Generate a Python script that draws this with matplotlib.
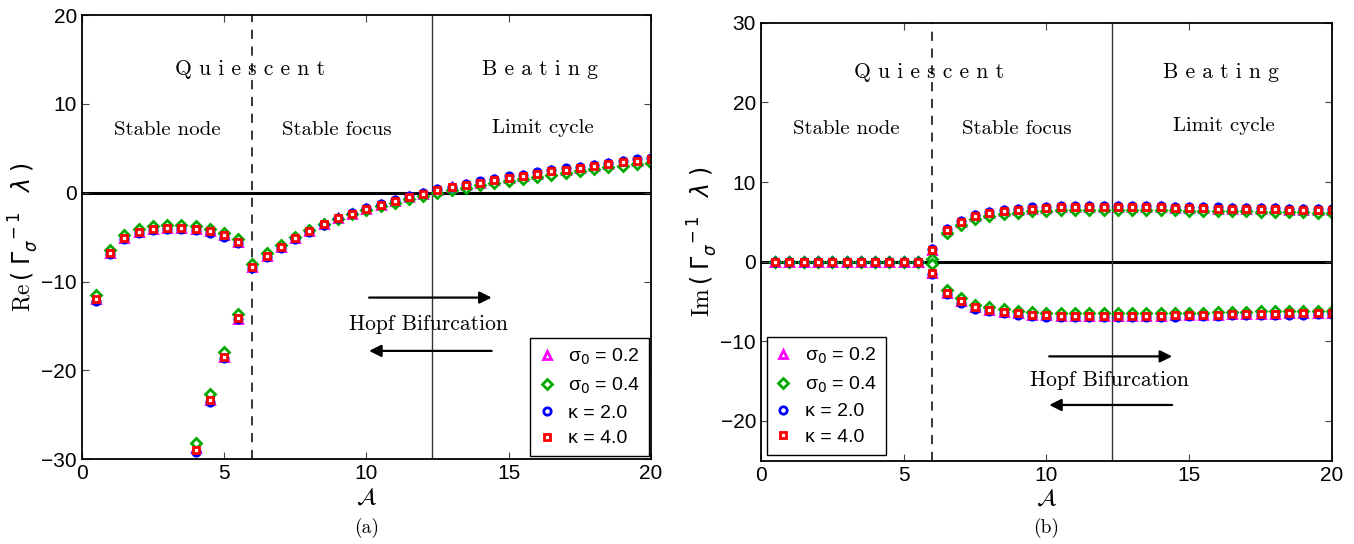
import numpy as np
import matplotlib.pyplot as plt

# amplitude grid
A = np.arange(0.5, 20.01, 0.5)

# Re(lambda): main branch for each parameter set
re_s02 = [-12.0, -6.8, -5.1, -4.4, -4.05, -3.95, -3.95, -4.1, -4.35, -4.8, -5.55,
          -8.35, -7.1, -6.1, -5.15, -4.3, -3.55, -2.9, -2.35, -1.8, -1.35, -0.9,
          -0.45, -0.1, 0.3, 0.6, 0.85, 1.15, 1.45, 1.7, 1.9, 2.15, 2.4, 2.6, 2.8,
          3.0, 3.25, 3.45, 3.6, 3.75]
re_s04 = [-11.5, -6.4, -4.8, -4.1, -3.75, -3.65, -3.65, -3.8, -4.05, -4.5, -5.2,
          -8.0, -6.8, -5.85, -4.95, -4.2, -3.55, -2.95, -2.45, -1.95, -1.5, -1.1,
          -0.65, -0.35, 0.0, 0.3, 0.55, 0.85, 1.1, 1.35, 1.6, 1.8, 2.05, 2.25,
          2.45, 2.65, 2.85, 3.05, 3.2, 3.35]
re_k2 = [-12.2, -6.95, -5.25, -4.55, -4.2, -4.1, -4.1, -4.25, -4.5, -4.95, -5.7,
         -8.5, -7.2, -6.2, -5.25, -4.4, -3.6, -2.9, -2.3, -1.75, -1.25, -0.8,
         -0.35, 0.0, 0.4, 0.7, 1.0, 1.3, 1.6, 1.85, 2.05, 2.3, 2.55, 2.75, 2.95,
         3.15, 3.4, 3.6, 3.75, 3.9]
re_k4 = [-12.0, -6.8, -5.1, -4.4, -4.05, -3.95, -3.95, -4.1, -4.35, -4.8, -5.55,
         -8.35, -7.1, -6.1, -5.15, -4.3, -3.55, -2.9, -2.35, -1.8, -1.35, -0.9,
         -0.45, -0.1, 0.3, 0.6, 0.85, 1.15, 1.45, 1.7, 1.9, 2.15, 2.4, 2.6, 2.8,
         3.0, 3.25, 3.45, 3.6, 3.75]

# second real root (stable node), only inside the plotted range
A_low = [4.0, 4.5, 5.0, 5.5]
low_s02 = [-28.7, -23.3, -18.5, -14.2]
low_s04 = [-28.2, -22.7, -17.9, -13.7]
low_k2 = [-29.2, -23.5, -18.6, -14.2]
low_k4 = [-29.0, -23.3, -18.5, -14.1]

# Im(lambda), upper root of the conjugate pair
im_s02 = [0]*11 + [1.4, 3.95, 5.0, 5.75, 6.1, 6.35, 6.5, 6.65, 6.75, 6.8, 6.85,
                   6.85, 6.85, 6.85, 6.85, 6.8, 6.8, 6.75, 6.7, 6.7, 6.65, 6.6,
                   6.6, 6.55, 6.55, 6.5, 6.5, 6.45, 6.45]
im_s04 = [0]*11 + [0.3, 3.55, 4.6, 5.4, 5.75, 6.0, 6.15, 6.3, 6.4, 6.45, 6.5,
                   6.5, 6.5, 6.5, 6.5, 6.5, 6.45, 6.45, 6.4, 6.4, 6.35, 6.3,
                   6.3, 6.25, 6.25, 6.2, 6.2, 6.15, 6.15]
im_k2 = [0]*11 + [1.6, 4.1, 5.15, 5.9, 6.25, 6.5, 6.65, 6.8, 6.9, 6.95, 7.0,
                  7.0, 7.0, 7.0, 7.0, 6.95, 6.95, 6.9, 6.85, 6.85, 6.8, 6.75,
                  6.75, 6.7, 6.7, 6.65, 6.65, 6.6, 6.6]
im_k4 = [0]*11 + [1.4, 3.95, 5.0, 5.75, 6.1, 6.35, 6.5, 6.65, 6.75, 6.8, 6.85,
                  6.85, 6.85, 6.85, 6.85, 6.8, 6.8, 6.75, 6.7, 6.7, 6.65, 6.6,
                  6.6, 6.55, 6.55, 6.5, 6.5, 6.45, 6.45]

labels = ['σ$_0$ = 0.2', 'σ$_0$ = 0.4', 'κ = 2.0', 'κ = 4.0']
styles = [dict(marker='^', color='#ff00ff', ms=5.8),
          dict(marker='D', color='#00aa00', ms=4.7),
          dict(marker='o', color='#0000ff', ms=5.3),
          dict(marker='s', color='#ff0000', ms=5.0)]

A_hopf = 12.3
A_focus = 6.0

sans = 'Liberation Sans'
serif = 'cmr10'

fig = plt.figure(figsize=(13.54, 5.44), dpi=100)
ax1 = fig.add_axes([0.0603, 0.1557, 0.4205, 0.8167])
ax2 = fig.add_axes([0.5620, 0.1531, 0.4217, 0.8051])


def draw_markers(ax, x, series, with_label):
    for y, st, lab in zip(series, styles, labels):
        kw = dict(mew=2.0, mfc='white', ls='none')
        kw.update(st)
        ax.plot(x, y, label=lab if with_label else None, **kw)


def dress(ax, ylim, yticks):
    ax.set_xlim(0, 20)
    ax.set_ylim(*ylim)
    ax.set_xticks([0, 5, 10, 15, 20])
    ax.set_yticks(yticks)
    ax.tick_params(direction='in', top=True, right=True, length=5, width=0.8,
                   labelsize=15, color='#444444')
    for t in ax.get_xticklabels() + ax.get_yticklabels():
        t.set_fontfamily(sans)
    for s in ax.spines.values():
        s.set_linewidth(1.3)
    ax.axhline(0, color='black', lw=2.2, zorder=1)
    ax.axvline(A_focus, color='black', lw=1.1, ls=(0, (6, 5)), zorder=1)
    ax.axvline(A_hopf, color='#333333', lw=1.0, zorder=1)
    ax.set_xlabel(r'$\mathcal{A}$', fontsize=17, labelpad=1)


def hopf(ax, y_right, y_text, y_left):
    ax.annotate('', xy=(14.5, y_right), xytext=(10.0, y_right),
                arrowprops=dict(arrowstyle='-|>', color='black', lw=1.6,
                                mutation_scale=18))
    ax.annotate('', xy=(10.0, y_left), xytext=(14.5, y_left),
                arrowprops=dict(arrowstyle='-|>', color='black', lw=1.6,
                                mutation_scale=18))
    ax.text(12.2, y_text, 'Hopf Bifurcation', family=serif, fontsize=15.5,
            ha='center', va='center')


def regions(ax, y_top, y_mid):
    ax.text(5.9, y_top, 'Q u i e s c e n t', family=serif, fontsize=15.5,
            ha='center', va='center')
    ax.text(16.1, y_top, 'B e a t i n g', family=serif, fontsize=15.5,
            ha='center', va='center')
    ax.text(3.0, y_mid, 'Stable node', family=serif, fontsize=15,
            ha='center', va='center')
    ax.text(8.95, y_mid, 'Stable focus', family=serif, fontsize=15,
            ha='center', va='center')
    ax.text(16.2, y_mid + 0.3, 'Limit cycle', family=serif, fontsize=15,
            ha='center', va='center')


def legend(ax, loc, anchor):
    leg = ax.legend(loc=loc, bbox_to_anchor=anchor, numpoints=1, fancybox=False,
                    edgecolor='black', framealpha=1, handlelength=0.8,
                    handletextpad=0.7, labelspacing=0.42, borderpad=0.45,
                    borderaxespad=0, prop=dict(family=sans, size=14))
    leg.get_frame().set_linewidth(1.0)
    for t in leg.get_texts():
        t.set_math_fontfamily('dejavusans')


# (a) real part
draw_markers(ax1, A, [re_s02, re_s04, re_k2, re_k4], True)
draw_markers(ax1, A_low, [low_s02, low_s04, low_k2, low_k4], False)
dress(ax1, (-30, 20), [-30, -20, -10, 0, 10, 20])
regions(ax1, 13.9, 7.0)
hopf(ax1, -11.8, -14.8, -17.8)
legend(ax1, 'lower right', (0.997, 0.007))
ax1.set_ylabel(r'Re$\,(\;\Gamma_{\sigma}^{\;\;-1}\;\;\;\lambda\;)$', family=serif,
               fontsize=17, labelpad=0)

# (b) imaginary part, conjugate pair
draw_markers(ax2, A, [im_s02, im_s04, im_k2, im_k4], True)
draw_markers(ax2, A, [np.negative(v) for v in [im_s02, im_s04, im_k2, im_k4]], False)
dress(ax2, (-25, 30), [-20, -10, 0, 10, 20, 30])
regions(ax2, 23.8, 16.7)
hopf(ax2, -11.9, -14.9, -18.0)
legend(ax2, 'lower left', (0.0105, 0.013))
ax2.set_ylabel(r'Im$\,(\;\Gamma_{\sigma}^{\;\;-1}\;\;\;\lambda\;)$', family=serif,
               fontsize=17, labelpad=0)

fig.text(367 / 1354, 1 - 528 / 544, '(a)', family=serif, fontsize=14,
         ha='center', va='center')
fig.text(1046 / 1354, 1 - 528 / 544, '(b)', family=serif, fontsize=14,
         ha='center', va='center')

fig.savefig('out.png', dpi=100)
